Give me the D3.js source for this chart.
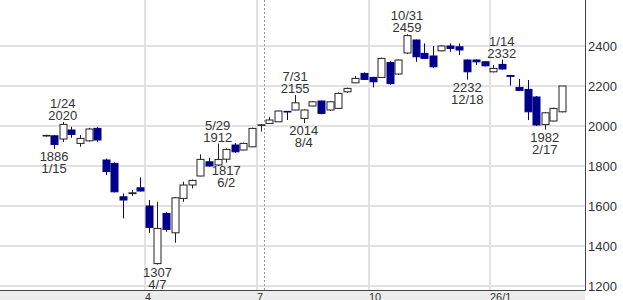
<!DOCTYPE html>
<html>
<head>
<meta charset="utf-8">
<script src="https://d3js.org/d3.v7.min.js"></script>
<style>
  body { margin: 0; background: #fff; }
  svg { display: block; font-family: "Liberation Sans", Arial, sans-serif; }
  .lbl { font-size: 13px; fill: #333; }
</style>
</head>
<body>
<div id="chart"></div>
<script>
// weekly candles (week start dates)
var weeks = ["2025-01-06","2025-01-13","2025-01-20","2025-01-27","2025-02-03","2025-02-10","2025-02-17","2025-02-24",
  "2025-03-03","2025-03-10","2025-03-17","2025-03-24","2025-03-31","2025-04-07","2025-04-14","2025-04-21","2025-04-28",
  "2025-05-05","2025-05-12","2025-05-19","2025-05-26","2025-06-02","2025-06-09","2025-06-16","2025-06-23","2025-06-30",
  "2025-07-07","2025-07-14","2025-07-21","2025-07-28","2025-08-04","2025-08-11","2025-08-18","2025-08-25",
  "2025-09-01","2025-09-08","2025-09-15","2025-09-22","2025-09-29","2025-10-06","2025-10-13","2025-10-20","2025-10-27",
  "2025-11-03","2025-11-10","2025-11-17","2025-11-24","2025-12-01","2025-12-08","2025-12-15","2025-12-22","2025-12-29",
  "2026-01-05","2026-01-12","2026-01-19","2026-01-26","2026-02-02","2026-02-09","2026-02-16","2026-02-23","2026-03-02"];

var open  = [1950,1951,1935,1980,1913,1926,1988,1830,1813,1646,1662,1691,1600,1312,1563,1466,1638,1705,1750,1821,
  1805,1834,1905,1880,1896,2003,2013,2021,2073,2080,2038,2100,2125,2080,2088,2171,2216,2263,2243,2243,
  2317,2260,2365,2430,2363,2350,2376,2400,2396,2330,2330,2321,2271,2308,2252,2193,2183,2145,2007,2025,2071];
var high  = [1956,1955,2020,1996,1955,1991,1996,1838,1818,1663,1680,1743,1630,1621,1571,1645,1721,1732,1858,1841,
  1912,1888,1915,1917,1992,2010,2046,2078,2075,2155,2083,2125,2127,2125,2168,2192,2250,2268,2246,2342,
  2325,2333,2459,2432,2413,2400,2403,2413,2413,2333,2333,2324,2305,2332,2253,2235,2230,2150,2070,2092,2200];
var low   = [1946,1886,1920,1941,1896,1922,1921,1755,1668,1538,1650,1672,1466,1307,1471,1416,1621,1688,1748,1797,
  1800,1817,1865,1878,1894,1972,2012,2020,2030,2078,2014,2098,2058,2075,2085,2165,2214,2230,2193,2240,
  2205,2255,2360,2321,2335,2290,2373,2371,2355,2232,2305,2298,2268,2282,2202,2176,2030,2000,1982,2022,2068];
var close = [1953,1908,2008,1958,1938,1985,1930,1772,1671,1630,1666,1675,1493,1488,1483,1641,1705,1728,1833,1800,
  1833,1883,1871,1913,1988,2006,2030,2075,2070,2116,2080,2121,2063,2121,2163,2188,2238,2233,2221,2338,
  2212,2330,2452,2346,2338,2296,2400,2388,2380,2271,2321,2301,2288,2285,2248,2178,2071,2005,2066,2088,2200];

// high / low annotations
var annoWeek  = ["2025-01-20","2025-01-13","2025-04-07","2025-05-26","2025-06-02","2025-07-28","2025-08-04",
  "2025-10-27","2025-12-15","2026-01-12","2026-02-16"];
var annoDate  = ["1/24","1/15","4/7","5/29","6/2","7/31","8/4","10/31","12/18","1/14","2/17"];
var annoValue = [2020,1886,1307,1912,1817,2155,2014,2459,2232,2332,1982];
var annoKind  = ["high","low","low","high","low","high","low","high","low","high","low"];

// axis ticks
var yTicks = [1200,1400,1600,1800,2000,2200,2400];
var xTickWeeks  = ["2025-03-31","2025-06-30","2025-09-29","2026-01-05"];
var xTickLabels = ["4","7","10","26/1"];
var markerWeek = "2025-06-30";

var W = 623, H = 300, plotRight = 585, plotBottom = 290.5;

var svg = d3.select("#chart").append("svg")
  .attr("width", W).attr("height", H);

var x = d3.scaleBand().domain(weeks).range([41.2, 566.3]).padding(0);
var y = d3.scaleLinear().domain([1200, 2600]).range([286, 6]);
var bw = x.bandwidth();
function cx(w) { return x(w) + bw / 2; }

// grid
svg.append("g").selectAll("line").data(yTicks).enter().append("line")
  .attr("x1", 0).attr("x2", plotRight)
  .attr("y1", function(d) { return Math.round(y(d)); })
  .attr("y2", function(d) { return Math.round(y(d)); })
  .attr("stroke", "#e2e2e2").attr("stroke-width", 2);

svg.append("g").selectAll("line").data(xTickWeeks).enter().append("line")
  .attr("x1", function(d) { return Math.round(x(d)) + 1; })
  .attr("x2", function(d) { return Math.round(x(d)) + 1; })
  .attr("y1", 0).attr("y2", plotBottom)
  .attr("stroke", "#e2e2e2").attr("stroke-width", 2);

svg.append("line")
  .attr("x1", Math.round(x(markerWeek) + bw * 0.9) + 0.5)
  .attr("x2", Math.round(x(markerWeek) + bw * 0.9) + 0.5)
  .attr("y1", 0).attr("y2", plotBottom)
  .attr("stroke", "#999").attr("stroke-dasharray", "2,2");

// candles
var candles = weeks.map(function(w, i) {
  return { w: w, o: open[i], h: high[i], l: low[i], c: close[i] };
});

var g = svg.append("g").selectAll("g").data(candles).enter().append("g");

g.append("line")
  .attr("x1", function(d) { return Math.round(cx(d.w)) + 0.5; })
  .attr("x2", function(d) { return Math.round(cx(d.w)) + 0.5; })
  .attr("y1", function(d) { return y(d.h); })
  .attr("y2", function(d) { return y(d.l); })
  .attr("stroke", function(d) { return d.c >= d.o ? "#222" : "#00008b"; });

g.append("rect")
  .attr("x", function(d) { return Math.round(cx(d.w)) - 3; })
  .attr("width", 7)
  .attr("y", function(d) { return y(Math.max(d.o, d.c)); })
  .attr("height", function(d) { return Math.max(0.5, Math.abs(y(d.o) - y(d.c))); })
  .attr("fill", function(d) { return d.c >= d.o ? "#fff" : "#00008b"; })
  .attr("stroke", function(d) { return d.c >= d.o ? "#222" : "#00008b"; })
  .attr("stroke-width", 1);

// annotations
annoWeek.forEach(function(w, i) {
  var t = svg.append("text").attr("class", "lbl").attr("text-anchor", "middle")
    .attr("x", cx(w));
  var yv = y(annoValue[i]);
  if (annoKind[i] === "high") {
    t.append("tspan").attr("x", cx(w)).attr("y", yv - 14).text(annoDate[i]);
    t.append("tspan").attr("x", cx(w)).attr("y", yv - 2).text(annoValue[i]);
  } else {
    t.append("tspan").attr("x", cx(w)).attr("y", yv + 12).text(annoValue[i]);
    t.append("tspan").attr("x", cx(w)).attr("y", yv + 24).text(annoDate[i]);
  }
});

// bottom band and axes
svg.append("rect").attr("x", 0).attr("y", plotBottom).attr("width", plotRight).attr("height", H - plotBottom)
  .attr("fill", "#ececec");
svg.append("line").attr("x1", 0).attr("x2", plotRight + 0.5).attr("y1", plotBottom).attr("y2", plotBottom)
  .attr("stroke", "#444");
svg.append("line").attr("x1", plotRight + 0.5).attr("x2", plotRight + 0.5).attr("y1", 0).attr("y2", plotBottom)
  .attr("stroke", "#444");

svg.append("g").selectAll("text").data(yTicks).enter().append("text")
  .attr("class", "lbl")
  .attr("x", 588).attr("y", function(d) { return y(d); }).attr("dy", "0.42em")
  .text(function(d) { return d; });

svg.append("g").selectAll("text").data(xTickWeeks).enter().append("text")
  .attr("x", function(d) { return Math.round(x(d)) + 1; }).attr("y", 301)
  .attr("font-size", 11).attr("fill", "#333")
  .text(function(d, i) { return xTickLabels[i]; });
</script>
</body>
</html>
